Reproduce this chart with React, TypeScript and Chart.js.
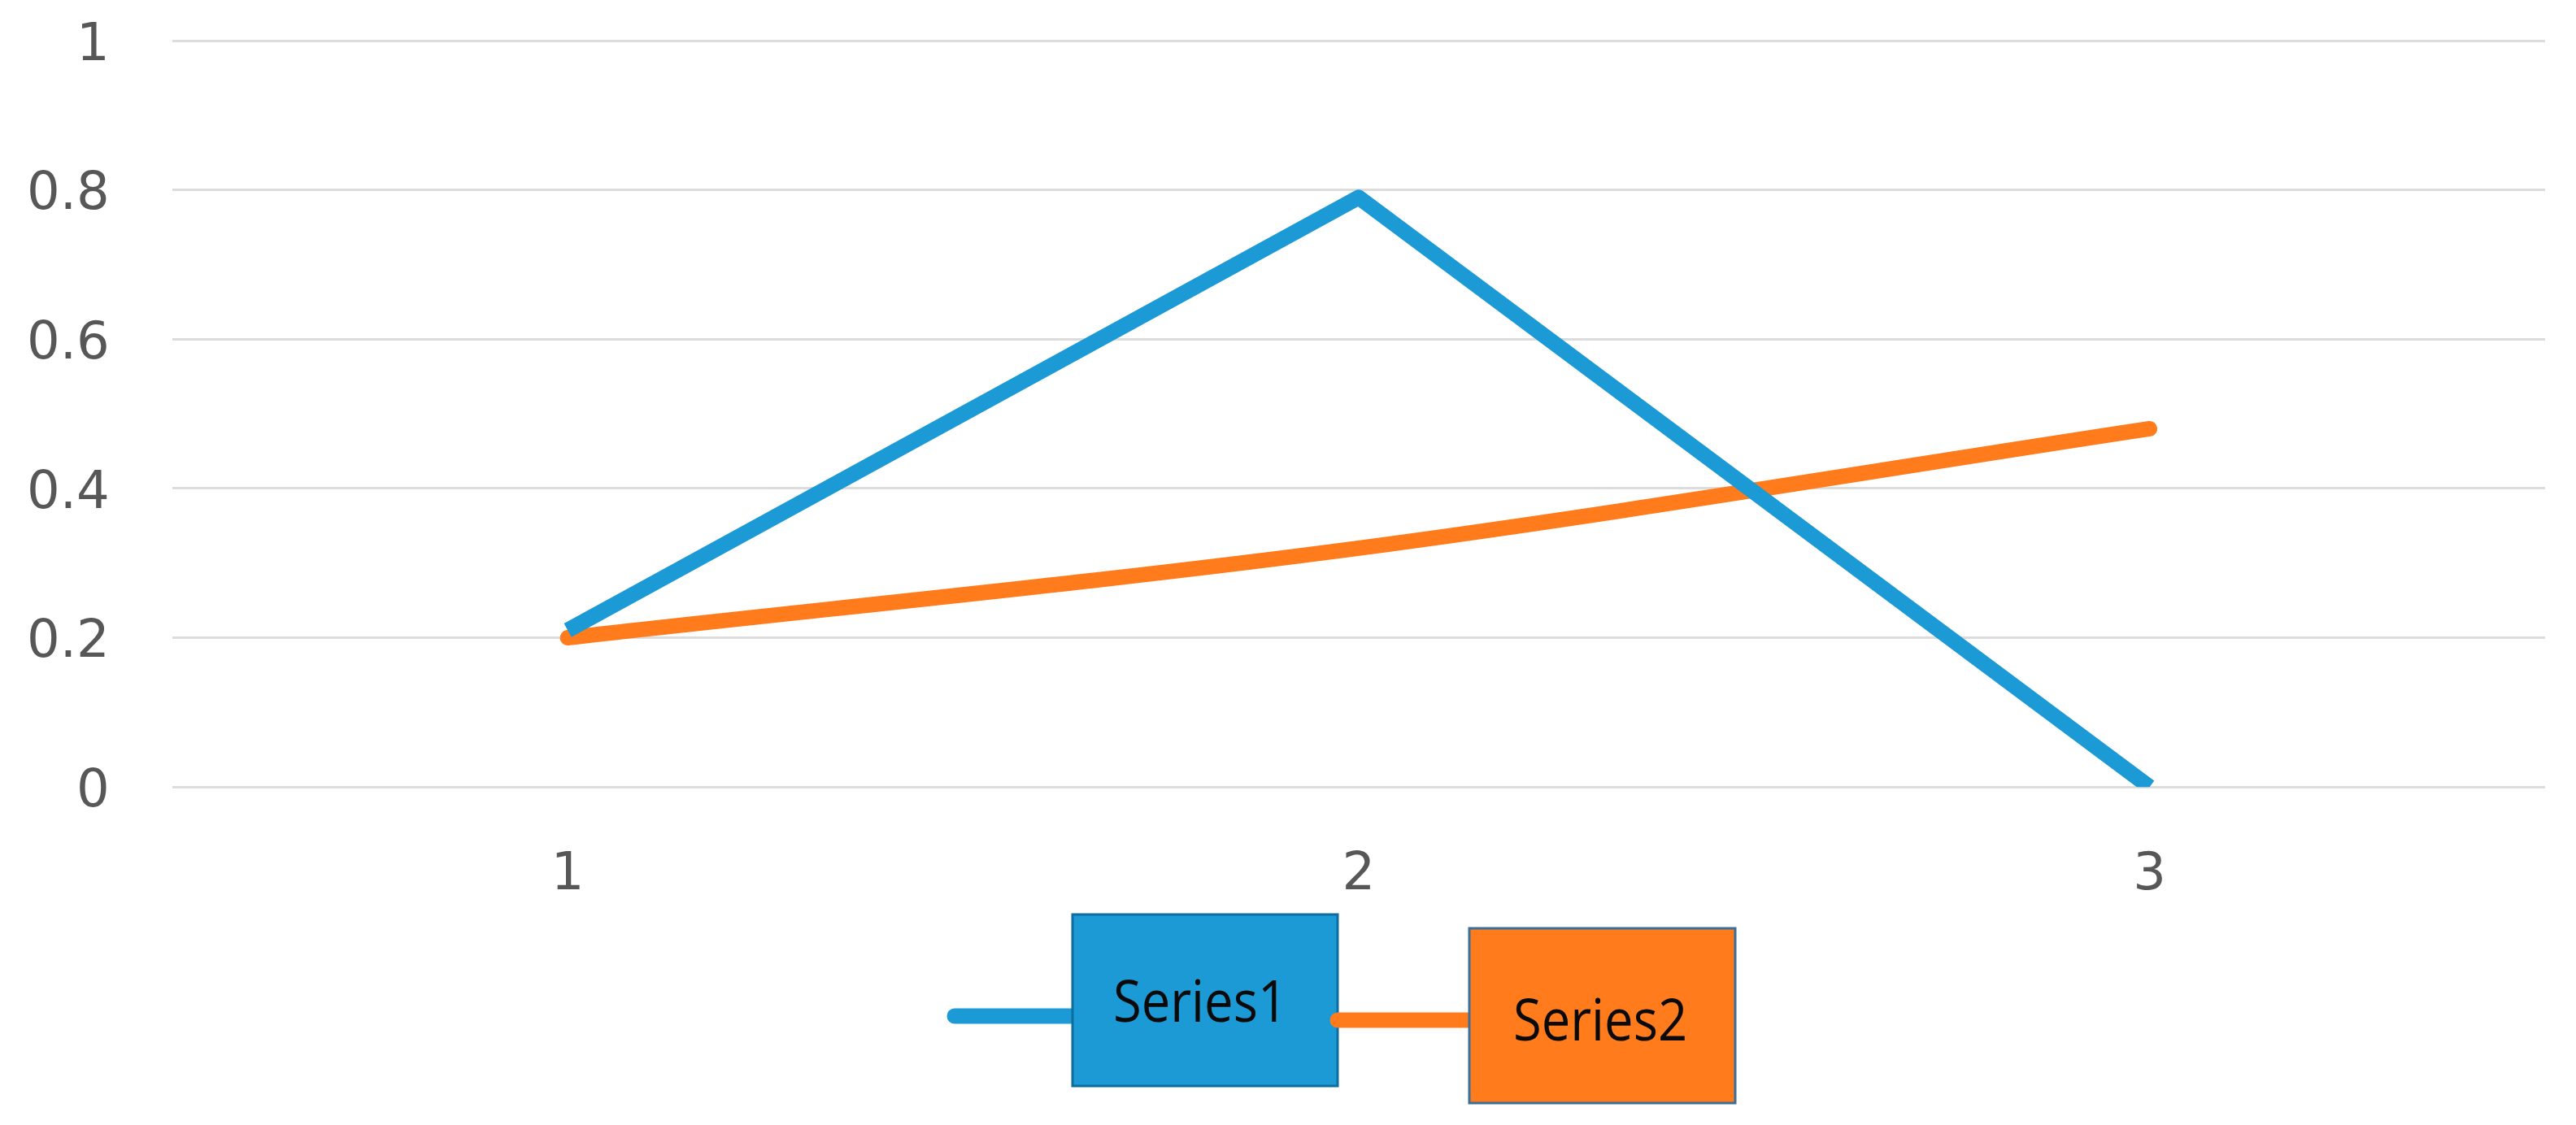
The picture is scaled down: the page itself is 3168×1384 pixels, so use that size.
import React, { useEffect, useRef } from 'react';
import { Chart, registerables } from 'chart.js';

Chart.register(...registerables);

const categories = ['1', '2', '3'];
const seriesNames = ['Series1', 'Series2'];
const series1Values = [0.21, 0.79, 0.0];
const series2Values = [0.2, 0.32, 0.48];
const yTickValues = [0, 0.2, 0.4, 0.6, 0.8, 1];

const BLUE = '#1B9AD6';
const ORANGE = '#FF7B1C';

const W = 3168;
const H = 1384;

// custom legend: line segment followed by a filled box with the series name
const boxLegendPlugin = {
  id: 'boxLegend',
  afterDraw(chart: any) {
    const ctx = chart.ctx as CanvasRenderingContext2D;
    const layout = [
      { lx0: 1174, lx1: 1319, ly: 1250, bx: 1319, by: 1125, bw: 326, bh: 211, border: '#0F6C9E', tx: 1476, ty: 1257 },
      { lx0: 1645, lx1: 1807, ly: 1255, bx: 1807, by: 1142, bw: 327, bh: 215, border: '#3A6F99', tx: 1968, ty: 1280 },
    ];
    chart.data.datasets.forEach((ds: any, i: number) => {
      const L = layout[i];
      if (!L) return;
      ctx.save();
      ctx.strokeStyle = ds.borderColor;
      ctx.lineWidth = 19;
      ctx.lineCap = 'round';
      ctx.beginPath();
      ctx.moveTo(L.lx0, L.ly);
      ctx.lineTo(L.lx1, L.ly);
      ctx.stroke();
      ctx.fillStyle = ds.borderColor;
      ctx.fillRect(L.bx, L.by, L.bw, L.bh);
      ctx.lineWidth = 3;
      ctx.strokeStyle = L.border;
      ctx.strokeRect(L.bx, L.by, L.bw, L.bh);
      ctx.translate(L.tx, L.ty);
      ctx.scale(0.88, 1);
      ctx.fillStyle = '#0A0A0A';
      ctx.font = '500 72px "Open Sans"';
      ctx.textAlign = 'center';
      ctx.textBaseline = 'alphabetic';
      ctx.fillText(ds.label, 0, 0);
      ctx.restore();
    });
  },
};

export default function App() {
  const ref = useRef<HTMLCanvasElement | null>(null);
  useEffect(() => {
    document.body.style.margin = '0';
    const canvas = ref.current;
    if (!canvas) return;
    const chart = new Chart(canvas, {
      type: 'line',
      data: {
        labels: categories,
        datasets: [
          {
            label: seriesNames[0],
            data: series1Values,
            borderColor: BLUE,
            backgroundColor: BLUE,
            borderWidth: 19,
            pointRadius: 0,
            tension: 0,
            borderCapStyle: 'butt',
            borderJoinStyle: 'round',
            clip: { left: 30, top: 30, right: 30, bottom: 0 } as any,
          },
          {
            label: seriesNames[1],
            data: series2Values,
            borderColor: ORANGE,
            backgroundColor: ORANGE,
            borderWidth: 19,
            pointRadius: 0,
            tension: 0.33,
            borderCapStyle: 'round',
            borderJoinStyle: 'round',
            clip: 30 as any,
          },
        ],
      },
      options: {
        responsive: false,
        animation: false,
        events: [],
        layout: { padding: { left: 33, right: 38, top: 50, bottom: 268 } },
        plugins: {
          legend: { display: false },
          tooltip: { enabled: false },
          title: { display: false },
        },
        scales: {
          x: {
            type: 'category',
            offset: true,
            grid: {
              display: true,
              drawOnChartArea: false,
              drawTicks: true,
              tickLength: 71,
              color: 'rgba(0,0,0,0)',
              tickColor: 'rgba(0,0,0,0)',
            },
            border: { display: false },
            ticks: {
              color: '#575757',
              font: { family: '"DejaVu Sans"', size: 64 },
              padding: 0,
              maxRotation: 0,
              minRotation: 0,
            },
          },
          y: {
            type: 'linear',
            min: 0,
            max: 1,
            afterBuildTicks: (axis: any) => {
              axis.ticks = yTickValues.map((v) => ({ value: v }));
            },
            grid: {
              color: '#DCDCDC',
              lineWidth: 3,
              drawTicks: true,
              tickLength: 77,
              tickColor: 'rgba(0,0,0,0)',
            },
            border: { display: false },
            ticks: {
              color: '#575757',
              font: { family: '"DejaVu Sans"', size: 64 },
              padding: 0,
              labelOffset: 7,
              callback: (v: any) => String(Math.round(Number(v) * 10) / 10),
            },
          },
        },
      },
      plugins: [boxLegendPlugin],
    });
    return () => chart.destroy();
  }, []);
  return (
    <div style={{ position: 'absolute', left: 0, top: 0, width: W, height: H, background: '#ffffff' }}>
      <canvas ref={ref} width={W} height={H} style={{ display: 'block', width: W, height: H }} />
    </div>
  );
}
